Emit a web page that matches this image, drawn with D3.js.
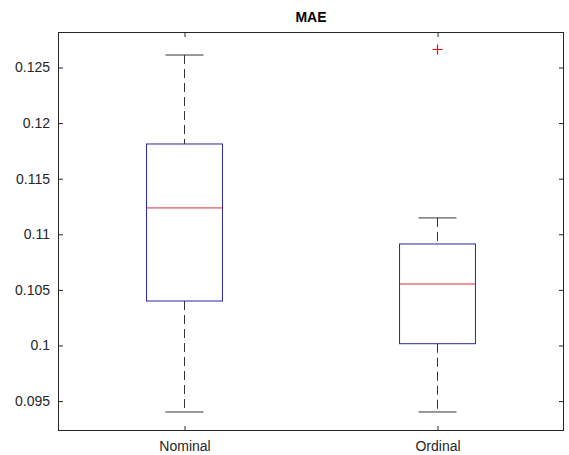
<!DOCTYPE html>
<html lang="en">
<head>
  <meta charset="UTF-8">
  <title>MAE</title>
  <script src="https://d3js.org/d3.v7.min.js"></script>
  <style>
    body {
      margin: 0;
      background: #fff;
      font-family: "Liberation Sans", Arial, sans-serif;
    }
    svg text {
      fill: #262626;
    }
  </style>
</head>
<body>
  <svg width="569" height="455"></svg>

  <script>
    // box statistics
    const categories = ['Nominal', 'Ordinal'];
    const upperWhisker = [0.12612, 0.11147];
    const q3 = [0.11812, 0.10913];
    const median = [0.11237, 0.10553];
    const q1 = [0.10400, 0.10016];
    const lowerWhisker = [0.09402, 0.09402];
    const outliers = [[], [0.12662]];
    const yTicks = [0.095, 0.1, 0.105, 0.11, 0.115, 0.12, 0.125];

    const svg = d3.select('svg');
    const plotLeft = 58, plotRight = 564, plotTop = 32, plotBottom = 431;

    const x = d3.scaleLinear().domain([0.5, 2.5]).range([plotLeft, plotRight]);
    const y = d3.scaleLinear().domain([0.09231, 0.12819]).range([plotBottom, plotTop]);

    const boxHalf = x(1.15) - x(1);
    const capHalf = x(1.075) - x(1);
    const tickLen = 5;
    const frameColor = '#262626';

    // title
    svg.append('text')
      .attr('x', (plotLeft + plotRight) / 2)
      .attr('y', 22)
      .attr('text-anchor', 'middle')
      .style('font-size', '14px')
      .style('font-weight', 'bold')
      .style('fill', '#000')
      .text('MAE');

    // y axis (left) and mirrored ticks on the right
    const yAxis = svg.append('g')
      .attr('transform', `translate(${plotLeft},0)`)
      .call(d3.axisLeft(y).tickValues(yTicks).tickSizeInner(-tickLen).tickSizeOuter(0)
        .tickPadding(8).tickFormat(d => String(+d.toFixed(3))));
    yAxis.select('.domain').remove();
    yAxis.selectAll('line').attr('stroke', frameColor);
    yAxis.selectAll('text').style('font-size', '14px').attr('fill', frameColor);

    const yRight = svg.append('g')
      .attr('transform', `translate(${plotRight},0)`)
      .call(d3.axisRight(y).tickValues(yTicks).tickSizeInner(-tickLen).tickSizeOuter(0).tickFormat(''));
    yRight.select('.domain').remove();
    yRight.selectAll('line').attr('stroke', frameColor);

    // x axis (bottom) and mirrored ticks on top
    const xAxis = svg.append('g')
      .attr('transform', `translate(0,${plotBottom})`)
      .call(d3.axisBottom(x).tickValues([1, 2]).tickSizeInner(-tickLen).tickSizeOuter(0)
        .tickPadding(10).tickFormat((d, i) => categories[i]));
    xAxis.select('.domain').remove();
    xAxis.selectAll('line').attr('stroke', frameColor);
    xAxis.selectAll('text').style('font-size', '14px').attr('fill', frameColor);

    const xTop = svg.append('g')
      .attr('transform', `translate(0,${plotTop})`)
      .call(d3.axisTop(x).tickValues([1, 2]).tickSizeInner(-tickLen).tickSizeOuter(0).tickFormat(''));
    xTop.select('.domain').remove();
    xTop.selectAll('line').attr('stroke', frameColor);

    // frame
    svg.append('rect')
      .attr('x', plotLeft + 0.5)
      .attr('y', plotTop + 0.5)
      .attr('width', plotRight - plotLeft - 1)
      .attr('height', plotBottom - plotTop - 1)
      .attr('fill', 'none')
      .attr('stroke', frameColor)
      .attr('stroke-width', 1);

    const data = categories.map((c, i) => ({
      pos: i + 1,
      hi: upperWhisker[i], q3: q3[i], med: median[i], q1: q1[i], lo: lowerWhisker[i],
      out: outliers[i]
    }));

    const g = svg.selectAll('g.box')
      .data(data)
      .enter()
      .append('g')
      .attr('class', 'box');

    // dashed whiskers
    g.append('line')
      .attr('x1', d => x(d.pos)).attr('x2', d => x(d.pos))
      .attr('y1', d => y(d.hi)).attr('y2', d => y(d.q3))
      .attr('stroke', '#333').attr('stroke-dasharray', '9,5');
    g.append('line')
      .attr('x1', d => x(d.pos)).attr('x2', d => x(d.pos))
      .attr('y1', d => y(d.q1)).attr('y2', d => y(d.lo))
      .attr('stroke', '#333').attr('stroke-dasharray', '9,5');

    // whisker caps
    g.append('line')
      .attr('x1', d => x(d.pos) - capHalf).attr('x2', d => x(d.pos) + capHalf)
      .attr('y1', d => y(d.hi)).attr('y2', d => y(d.hi))
      .attr('stroke', '#333');
    g.append('line')
      .attr('x1', d => x(d.pos) - capHalf).attr('x2', d => x(d.pos) + capHalf)
      .attr('y1', d => y(d.lo)).attr('y2', d => y(d.lo))
      .attr('stroke', '#333');

    // boxes
    g.append('rect')
      .attr('x', d => x(d.pos) - boxHalf)
      .attr('y', d => y(d.q3))
      .attr('width', boxHalf * 2)
      .attr('height', d => y(d.q1) - y(d.q3))
      .attr('fill', 'none')
      .attr('stroke', '#2626a0');

    // medians
    g.append('line')
      .attr('x1', d => x(d.pos) - boxHalf).attr('x2', d => x(d.pos) + boxHalf)
      .attr('y1', d => y(d.med)).attr('y2', d => y(d.med))
      .attr('stroke', '#d83030');

    // outliers as red plus signs
    g.selectAll('path.out')
      .data(d => d.out.map(v => ({ pos: d.pos, v: v })))
      .enter()
      .append('path')
      .attr('class', 'out')
      .attr('d', d => {
        const cx = x(d.pos), cy = Math.round(y(d.v)) + 0.5, r = 5;
        return `M${cx - r},${cy}H${cx + r}M${cx},${cy - r}V${cy + r}`;
      })
      .attr('stroke', '#ff0000')
      .attr('stroke-width', 1.2)
      .attr('fill', 'none');
  </script>
</body>
</html>
